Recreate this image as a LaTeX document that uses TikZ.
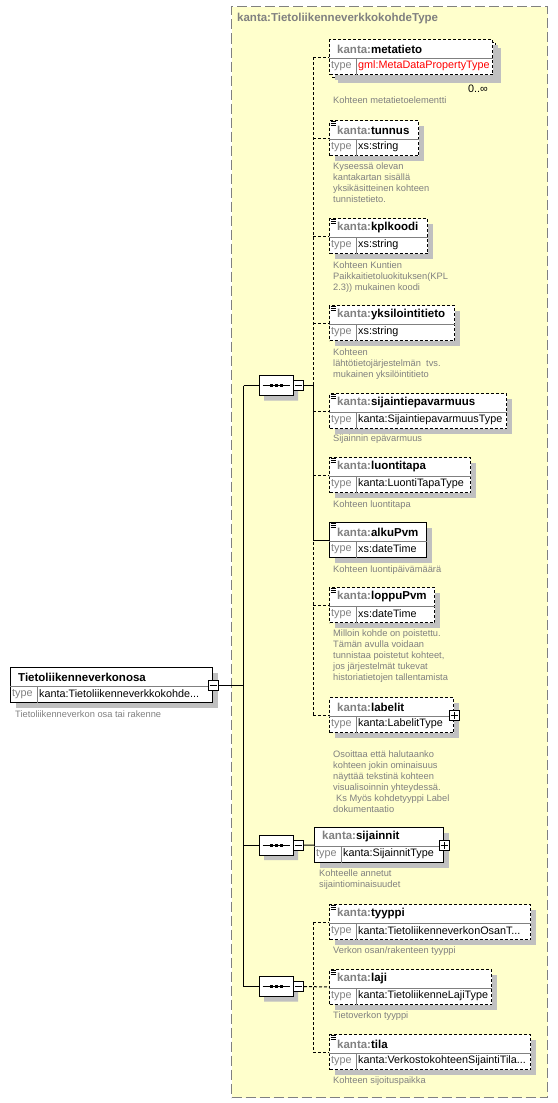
\documentclass[tikz,border=0pt]{standalone}
\usepackage{fontspec}
\setmainfont{Liberation Sans}
\usetikzlibrary{positioning,shapes.misc,shadows}
\definecolor{bgclr}{RGB}{255,255,204}
\definecolor{greyclr}{RGB}{128,128,128}
\definecolor{shadeclr}{RGB}{192,192,192}
\definecolor{gmlclr}{RGB}{255,0,0}
\tikzset{ %
  ,every node/.style={inner sep=0, font=\fontsize{10.8bp}{13bp}\selectfont}
  ,conn/.style={line width=1bp}
  ,opt/.style={dash pattern=on 3bp off 2bp}
  ,elembox/.style={draw, fill=white, line width=1bp, anchor=north west, minimum height=35bp, general shadow={fill=shadeclr, shadow xshift=5bp, shadow yshift=-5bp}}
  ,sepline/.style={draw=greyclr, line width=1bp}
  ,elname/.style={anchor=west, font=\fontsize{11.5bp}{13bp}\selectfont\bfseries}
  ,typelbl/.style={anchor=west, text=greyclr}
  ,typetxt/.style={anchor=west}
  ,desc/.style={align=left, text=greyclr, font=\fontsize{9.3bp}{11bp}\selectfont}
  ,seqbox/.style={draw, fill=white, line width=1bp, chamfered rectangle, chamfered rectangle xsep=5bp, chamfered rectangle ysep=5bp, minimum width=34bp, minimum height=20bp, general shadow={fill=shadeclr, shadow xshift=5bp, shadow yshift=-5bp}}
  ,togglebox/.style={draw, fill=white, line width=1bp, minimum size=10bp}
}
\newcommand{\kanta}{\textcolor{greyclr}{kanta:}}
% element box: [style], name, x, y, width, label, type
\newcommand{\xsdelem}[7][]{%
  \node[elembox, #1, minimum width=#5bp] (#2) at (#3,#4) {};
  \draw[sepline] ([yshift=-19bp]#2.north west) -- ([yshift=-19bp]#2.north east)
    ([xshift=27bp, yshift=-19bp]#2.north west) -- ([xshift=27bp]#2.south west);
  \node[elname] at ([xshift=8bp, yshift=-10bp]#2.north west) {#6};
  \node[typelbl] at ([xshift=2bp, yshift=-27bp]#2.north west) {type};
  \node[typetxt] at ([xshift=29bp, yshift=-27bp]#2.north west) {#7};
}
\newcommand{\docicon}[1]{%
  \foreach \d in {1.5,3.5,5.5}
    \draw[line width=0.8bp] ([xshift=1.5bp, yshift=-\d bp]#1.north west) -- ++(5,0);
}
\newcommand{\minusbox}[2]{%
  \node[togglebox] (#1) at (#2) {};
  \draw ([xshift=2bp]#1.west) -- ([xshift=-2bp]#1.east);
}
\newcommand{\plusbox}[2]{%
  \minusbox{#1}{#2}
  \draw ([yshift=2bp]#1.south) -- ([yshift=-2bp]#1.north);
}
% sequence compositor: name, x, y
\newcommand{\xsdseq}[3]{%
  \node[seqbox] (#1) at (#2,#3) {};
  \draw[line width=1bp] ([xshift=4bp]#1.west) -- ([xshift=-4bp]#1.east);
  \foreach \d in {-5,0,5}
    \fill ([xshift=\d bp]#1.center) +(-1.5,-1.5) rectangle +(1.5,1.5);
  \minusbox{#1-t}{[xshift=5bp]#1.east}
}

\begin{document}
\begin{tikzpicture}[x=1bp, y=-1bp]
  \useasboundingbox (0,0) rectangle (558,1103);
  \node[draw=greyclr, fill=bgclr, line width=1bp, dash pattern=on 10bp off 4bp, anchor=north west, minimum width=316bp, minimum height=1091bp] (frame) at (231,6) {};
  \node[elname, text=greyclr, below right=7bp and 6bp of frame.north west] (title) {kanta:TietoliikenneverkkokohdeType};

  % root element
  \xsdelem{root}{10}{667}{202}{Tietoliikenneverkonosa}{kanta:Tietoliikenneverkkokohde...}
  \minusbox{root-t}{root.east}
  \node[desc, below right=8bp and 5bp of root.south west] {Tietoliikenneverkon osa tai rakenne};

  % first sequence
  \xsdseq{seqA}{276}{385.5}
  \node[elembox, opt, minimum width=163bp] (metab) at (332,42) {};
  \xsdelem[opt]{meta}{329}{39}{163}{\kanta metatieto}{\textcolor{gmlclr}{gml:MetaDataPropertyType}}
  \node[below left=7bp and 8bp of metab.south east] {0..∞};
  \node[desc, below right=22bp and 4bp of meta.south west] {Kohteen metatietoelementti};

  \xsdelem[opt]{tunnus}{329}{120}{89}{\kanta tunnus}{xs:string}
  \docicon{tunnus}
  \node[desc, below right=7bp and 4bp of tunnus.south west] {Kyseessä olevan\\kantakartan sisällä\\yksikäsitteinen kohteen\\tunnistetieto.};

  \xsdelem[opt]{kpl}{329}{218}{98}{\kanta kplkoodi}{xs:string}
  \docicon{kpl}
  \node[desc, below right=8bp and 4bp of kpl.south west] {Kohteen Kuntien\\Paikkaitietoluokituksen(KPL\\2.3)) mukainen koodi};

  \xsdelem[opt]{yksil}{329}{305}{125}{\kanta yksilointitieto}{xs:string}
  \docicon{yksil}
  \node[desc, below right=8bp and 4bp of yksil.south west] {Kohteen\\lähtötietojärjestelmän\ \ tvs.\\mukainen yksilöintitieto};

  \xsdelem[opt]{sijepa}{329}{393}{177}{\kanta sijaintiepavarmuus}{kanta:SijaintiepavarmuusType}
  \docicon{sijepa}
  \node[desc, below right=6bp and 4bp of sijepa.south west] {Sijainnin epävarmuus};

  \xsdelem[opt]{luonti}{329}{457}{141}{\kanta luontitapa}{kanta:LuontiTapaType}
  \docicon{luonti}
  \node[desc, below right=8bp and 4bp of luonti.south west] {Kohteen luontitapa};

  \xsdelem{alku}{329}{522}{97}{\kanta alkuPvm}{xs:dateTime}
  \docicon{alku}
  \node[desc, below right=8bp and 4bp of alku.south west] {Kohteen luontipäivämäärä};

  \xsdelem[opt]{loppu}{329}{587}{105}{\kanta loppuPvm}{xs:dateTime}
  \docicon{loppu}
  \node[desc, below right=7bp and 4bp of loppu.south west] {Milloin kohde on poistettu.\\Tämän avulla voidaan\\tunnistaa poistetut kohteet,\\jos järjestelmät tukevat\\historiatietojen tallentamista};

  \xsdelem[opt]{labelit}{329}{697}{124}{\kanta labelit}{kanta:LabelitType}
  \plusbox{labelit-t}{labelit.east}
  \node[desc, below right=18bp and 4bp of labelit.south west] {Osoittaa että halutaanko\\kohteen jokin ominaisuus\\näyttää tekstinä kohteen\\visualisoinnin yhteydessä.\\\hspace*{3bp}Ks Myös kohdetyyppi Label\\dokumentaatio};

  % second sequence
  \xsdseq{seqB}{276}{845}
  \xsdelem{sij}{314}{827}{129}{\kanta sijainnit}{kanta:SijainnitType}
  \plusbox{sij-t}{sij.east}
  \node[desc, below right=7bp and 5bp of sij.south west] {Kohteelle annetut\\sijaintiominaisuudet};

  % third sequence
  \xsdseq{seqC}{276}{986.5}
  \xsdelem[opt]{tyyppi}{329}{904}{201}{\kanta tyyppi}{kanta:TietoliikenneverkonOsanT...}
  \docicon{tyyppi}
  \node[desc, below right=7bp and 4bp of tyyppi.south west] {Verkon osan/rakenteen tyyppi};

  \xsdelem[opt]{laji}{329}{969}{162}{\kanta laji}{kanta:TietoliikenneLajiType}
  \docicon{laji}
  \node[desc, below right=7bp and 4bp of laji.south west] {Tietoverkon tyyppi};

  \xsdelem[opt]{tila}{329}{1034}{201}{\kanta tila}{kanta:VerkostokohteenSijaintiTila...}
  \docicon{tila}
  \node[desc, below right=7bp and 4bp of tila.south west] {Kohteen sijoituspaikka};

  % connectors
  \coordinate (bus) at ([xshift=-16bp]meta.west);
  \coordinate (mainbus) at ([xshift=-15bp]seqA.west);
  \foreach \e in {meta,tunnus,kpl,yksil,sijepa,luonti,loppu,labelit,tyyppi,tila}
    \draw[conn,opt] (bus |- \e.west) -- (\e.west);
  \draw[conn,opt] (bus |- meta.west) -- (bus |- labelit.west);
  \draw[conn] (seqA-t.east) -- (bus |- seqA-t.east) -- (bus |- alku.west) -- (alku.west);
  \draw[conn] (seqB-t.east) -- (sij.west);
  \draw[conn,opt] (seqC-t.east) -- (laji.west);
  \draw[conn,opt] (bus |- tyyppi.west) -- (bus |- tila.west);
  \draw[conn] (root-t.east) -- (mainbus |- root-t.east);
  \draw[conn] (mainbus |- seqA.west) -- (mainbus |- seqC.west);
  \foreach \s in {seqA,seqB,seqC}
    \draw[conn] (mainbus |- \s.west) -- (\s.west);
\end{tikzpicture}
\end{document}
